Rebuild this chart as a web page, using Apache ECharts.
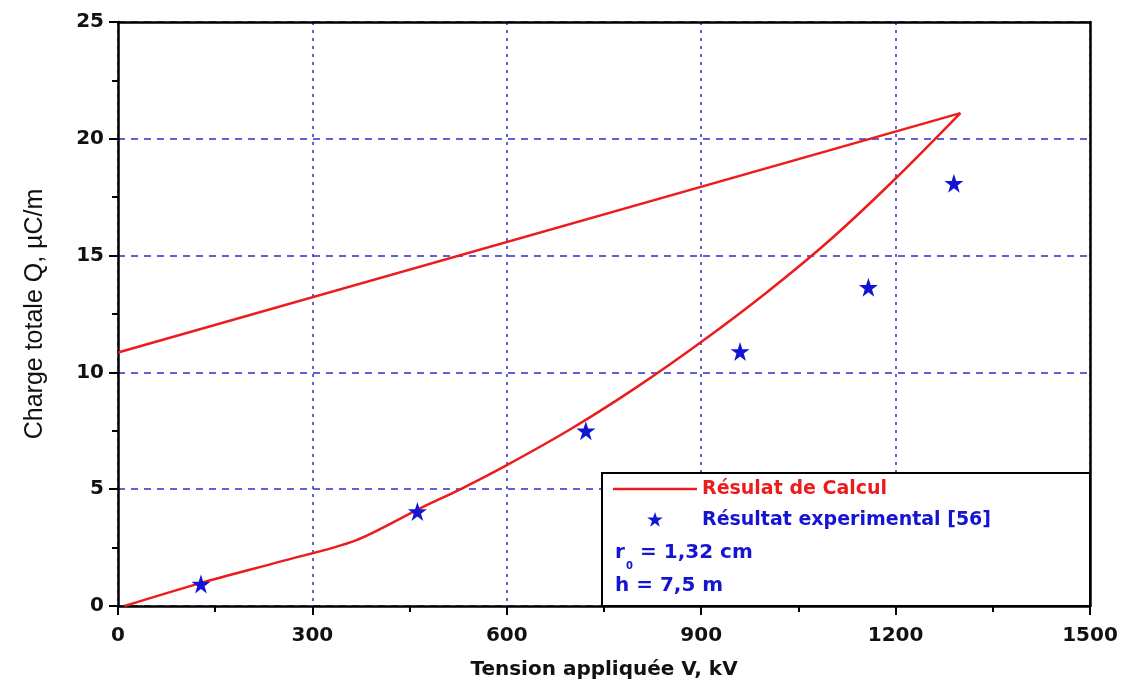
<!DOCTYPE html>
<html>
<head>
<meta charset="utf-8">
<script src="https://cdn.jsdelivr.net/npm/echarts@6/dist/echarts.min.js"></script>
<style>
  html, body { margin: 0; padding: 0; background: #fff; }
  #chart { width: 1130px; height: 690px; }
</style>
</head>
<body>
<div id="chart"></div>
<script>
// Tension appliquée (kV) et charge totale (µC/m)
const calcLowerV = [10, 130, 250, 366, 464, 532, 600, 700, 800, 900, 1000, 1100, 1200, 1300];
const calcLowerQ = [0, 1.0, 1.9, 2.8, 4.15, 5.05, 6.03, 7.6, 9.36, 11.3, 13.4, 15.7, 18.3, 21.1];
const calcUpperV = [1300, 0];
const calcUpperQ = [21.1, 10.85];
const expV = [128, 462, 722, 960, 1158, 1290];
const expQ = [0.94, 4.05, 7.5, 10.9, 13.65, 18.1];
const xTicks = [0, 300, 600, 900, 1200, 1500];
const yTicks = [0, 5, 10, 15, 20, 25];

const RED = '#ec1c1c';
const BLUE = '#1414d2';
const GRID_BLUE = '#2e2ec8';
const BOLD = 'DejaVu Sans';

// five-point star outline in a 100x100 box
const STAR_PTS = [[50,0],[61.8,35.1],[98.9,35.1],[68.8,56.8],[80.2,91.9],[50,70.2],[19.8,91.9],[31.2,56.8],[1.1,35.1],[38.2,35.1]];
const pathOf = (pts, dx) => pts.map((p, i) => (i ? 'L' : 'M') + (p[0] + dx) + ',' + p[1]).join(' ') + ' Z';
const STAR = 'path://' + pathOf(STAR_PTS, 0);
// legend icons live in a wide box (84x16 once scaled): the star sits in its middle,
// the line sample is a thin bar across it
const ICON_W = 525;
const FRAME = 'M0,0 L0,0 M' + ICON_W + ',100 L' + ICON_W + ',100 ';
const STAR_ICON = 'path://' + FRAME + pathOf(STAR_PTS, (ICON_W - 100) / 2);
const LINE_ICON = 'path://' + FRAME + 'M0,42 L' + ICON_W + ',42 L' + ICON_W + ',58 L0,58 Z';

const zip = (a, b) => a.map((v, i) => [v, b[i]]);

const chart = echarts.init(document.getElementById('chart'), null, { renderer: 'canvas' });

const axisBase = {
  type: 'value',
  axisLine: { show: true, onZero: false, lineStyle: { color: '#000', width: 2.5 } },
  axisTick: { show: true, length: 9, lineStyle: { color: '#000', width: 2 } },
  minorTick: { show: true, splitNumber: 2, length: 6, lineStyle: { color: '#000', width: 2 } },
  axisLabel: {
    color: '#111', fontFamily: BOLD, fontWeight: 'bold', fontSize: 20,
    formatter: v => String(v)
  }
};

chart.setOption({
  animation: false,
  backgroundColor: '#fff',
  grid: { left: 118, right: 40, top: 22, bottom: 84, containLabel: false },
  xAxis: [
    Object.assign({}, axisBase, {
      min: xTicks[0], max: xTicks[xTicks.length - 1], interval: 300,
      position: 'bottom',
      axisLabel: Object.assign({}, axisBase.axisLabel, { margin: 20 }),
      splitLine: { show: true, lineStyle: { color: GRID_BLUE, width: 1.5, type: [3, 5] } },
      name: 'Tension appliquée V, kV',
      nameLocation: 'middle',
      nameGap: 54,
      nameTextStyle: { color: '#111', fontFamily: BOLD, fontWeight: 'bold', fontSize: 20 }
    }),
    {
      type: 'value', position: 'top', min: 0, max: 1500,
      axisLine: { show: true, onZero: false, lineStyle: { color: '#000', width: 2.5 } },
      axisTick: { show: false }, axisLabel: { show: false }, splitLine: { show: false }
    }
  ],
  yAxis: [
    Object.assign({}, axisBase, {
      min: yTicks[0], max: yTicks[yTicks.length - 1], interval: 5,
      position: 'left',
      axisLabel: Object.assign({}, axisBase.axisLabel, { margin: 14 }),
      splitLine: { show: true, lineStyle: { color: GRID_BLUE, width: 1.5, type: [7, 6] } },
      name: 'Charge totale Q, µC/m',
      nameLocation: 'middle',
      nameGap: 70,
      nameTextStyle: { color: '#111', fontFamily: 'Liberation Sans', fontSize: 25 }
    }),
    {
      type: 'value', position: 'right', min: 0, max: 25,
      axisLine: { show: true, onZero: false, lineStyle: { color: '#000', width: 2.5 } },
      axisTick: { show: false }, axisLabel: { show: false }, splitLine: { show: false }
    }
  ],
  legend: {
    orient: 'vertical',
    left: 613,
    top: 479,
    itemWidth: 84,
    itemHeight: 16,
    itemGap: 11,
    padding: 0,
    textStyle: { fontFamily: BOLD, fontWeight: 'bold', fontSize: 19, lineHeight: 20 },
    data: [
      { name: 'Résulat de Calcul', icon: LINE_ICON, itemStyle: { color: RED }, textStyle: { color: RED } },
      { name: 'Résultat experimental [56]', icon: STAR_ICON, itemStyle: { color: BLUE, opacity: 1 }, textStyle: { color: BLUE } }
    ],
    z: 20
  },
  graphic: [
    {
      type: 'rect', z: 10,
      shape: { x: 602, y: 473, width: 488, height: 133 },
      style: { fill: '#fff', stroke: '#000', lineWidth: 2 }
    },
    {
      type: 'text', z: 11, left: 615, top: 543,
      style: { text: 'r', fill: BLUE, font: 'bold 20px "DejaVu Sans"' }
    },
    {
      type: 'text', z: 11, left: 626, top: 561,
      style: { text: '0', fill: BLUE, font: 'bold 10px "DejaVu Sans"' }
    },
    {
      type: 'text', z: 11, left: 640, top: 543,
      style: { text: '= 1,32 cm', fill: BLUE, font: 'bold 20px "DejaVu Sans"' }
    },
    {
      type: 'text', z: 11, left: 615, top: 576,
      style: { text: 'h = 7,5 m', fill: BLUE, font: 'bold 20px "DejaVu Sans"' }
    }
  ],
  series: [
    {
      name: 'Résulat de Calcul',
      type: 'line',
      data: zip(calcLowerV, calcLowerQ),
      smooth: 0.3,
      symbol: 'none',
      lineStyle: { color: RED, width: 2.5 },
      itemStyle: { color: RED },
      z: 5
    },
    {
      name: 'Résulat de Calcul',
      type: 'line',
      data: zip(calcUpperV, calcUpperQ),
      symbol: 'none',
      lineStyle: { color: RED, width: 2.5 },
      itemStyle: { color: RED },
      z: 5
    },
    {
      name: 'Résultat experimental [56]',
      type: 'scatter',
      data: zip(expV, expQ),
      symbol: STAR,
      symbolSize: 19,
      itemStyle: { color: BLUE, opacity: 1 },
      z: 6
    }
  ]
});
</script>
</body>
</html>
